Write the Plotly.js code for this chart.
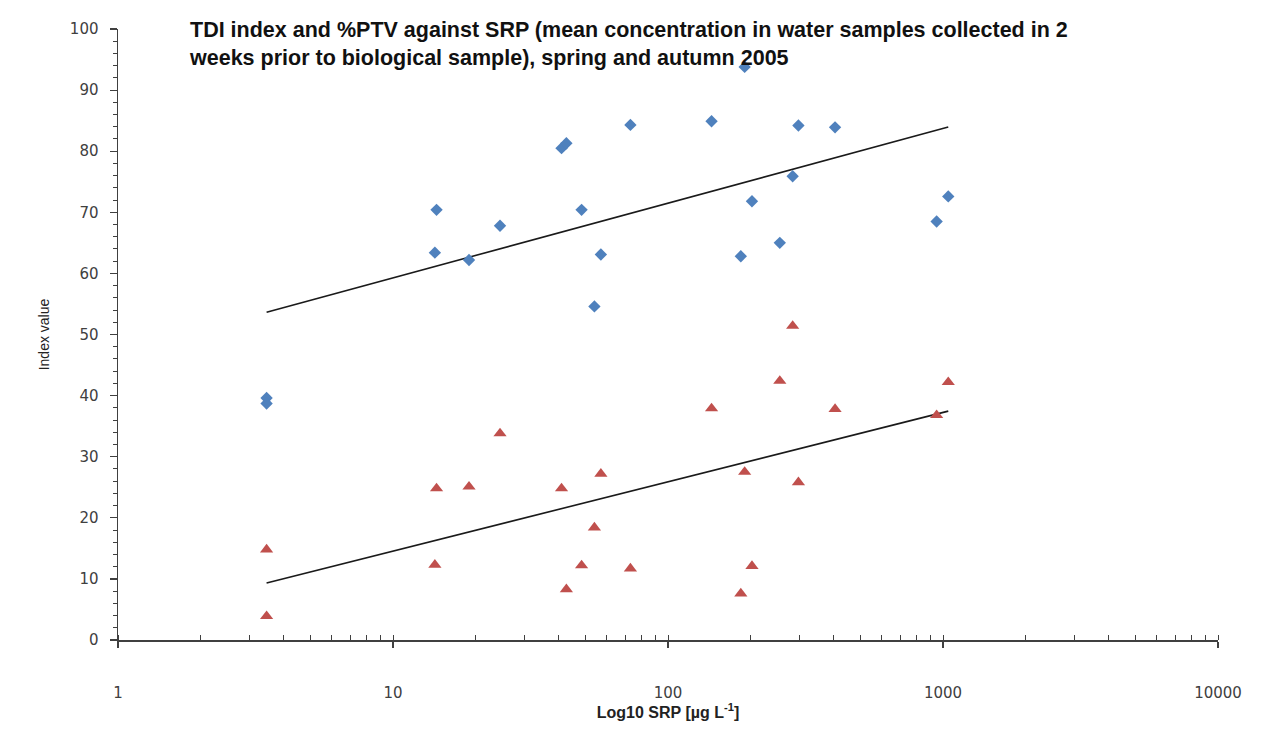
<!DOCTYPE html>
<html>
<head>
<meta charset="utf-8">
<script src="https://cdn.plot.ly/plotly-3.0.1.min.js"></script>
<style>
  html, body { margin: 0; padding: 0; background: #ffffff; }
  #chart { width: 1262px; height: 745px; }
</style>
</head>
<body>
<div id="chart"></div>
<script>
// SRP (µg/L), mean concentration in the 2 weeks before the biological sample
const srp = [3.47, 3.47, 14.2, 14.4, 18.9, 24.5, 41, 42.7, 48.5, 54, 57, 73, 144, 184, 190, 202, 255, 284, 298, 405, 948, 1045];
// TDI index values
const tdi = [39.6, 38.7, 63.4, 70.4, 62.2, 67.8, 80.5, 81.3, 70.4, 54.6, 63.1, 84.3, 84.9, 62.8, 93.8, 71.8, 65.0, 75.9, 84.2, 83.9, 68.5, 72.6];
// %PTV values
const ptv = [14.8, 3.9, 12.3, 24.8, 25.1, 33.8, 24.8, 8.3, 12.2, 18.4, 27.2, 11.7, 37.9, 7.6, 27.5, 12.1, 42.4, 51.4, 25.8, 37.8, 36.8, 42.2];

const xTickVals = [1, 10, 100, 1000, 10000];
const xTickText = ['1', '10', '100', '1000', '10000'];

const titleText = 'TDI index and %PTV against SRP (mean concentration in water samples collected in 2<br>weeks prior to biological sample), spring and autumn 2005';

// Logarithmic trendline (least squares of y on log10(x)), as in the spreadsheet trendline
function logTrend(xs, ys) {
  const lx = xs.map(v => Math.log10(v));
  const n = lx.length;
  const mx = lx.reduce((a, b) => a + b, 0) / n;
  const my = ys.reduce((a, b) => a + b, 0) / n;
  let sxy = 0, sxx = 0;
  for (let i = 0; i < n; i++) { sxy += (lx[i] - mx) * (ys[i] - my); sxx += (lx[i] - mx) * (lx[i] - mx); }
  const b = sxy / sxx, a = my - b * mx;
  const x0 = Math.min(...xs), x1 = Math.max(...xs);
  return { x: [x0, x1], y: [a + b * Math.log10(x0), a + b * Math.log10(x1)] };
}
const tdiTrend = logTrend(srp, tdi);
const ptvTrend = logTrend(srp, ptv);

const traces = [
  { x: tdiTrend.x, y: tdiTrend.y, type: 'scatter', mode: 'lines', name: 'TDI trend',
    line: { color: '#1a1a1a', width: 1.6 }, hoverinfo: 'skip' },
  { x: ptvTrend.x, y: ptvTrend.y, type: 'scatter', mode: 'lines', name: '%PTV trend',
    line: { color: '#1a1a1a', width: 1.6 }, hoverinfo: 'skip' },
  { x: srp, y: tdi, type: 'scatter', mode: 'markers', name: 'TDI',
    marker: { symbol: 'diamond', size: 9.5, color: '#4F81BD' } },
  { x: srp, y: ptv, type: 'scatter', mode: 'markers', name: '%PTV',
    marker: { symbol: 'triangle-up', size: 11.5, color: '#C0504D' } }
];

const tickFont = { family: 'DejaVu Sans', size: 15, color: '#404040' };

const layout = {
  width: 1262, height: 745,
  paper_bgcolor: '#ffffff', plot_bgcolor: '#ffffff',
  showlegend: false,
  margin: { l: 118, r: 44, t: 29, b: 105 },
  title: {
    text: titleText,
    font: { family: 'Liberation Sans', size: 21.5, color: '#111111', weight: 'bold' },
    xref: 'container', yref: 'container',
    x: 190 / 1262, xanchor: 'left',
    y: 1 - 37 / 745, yanchor: 'top'
  },
  xaxis: {
    type: 'log', range: [0, 4],
    tickmode: 'array', tickvals: xTickVals, ticktext: xTickText,
    showgrid: false, zeroline: false,
    showline: true, linecolor: '#404040', linewidth: 1.5,
    ticks: 'outside', ticklen: 6, tickcolor: '#404040', tickwidth: 1.2,
    minor: { ticks: 'inside', ticklen: 5, tickcolor: '#404040', tickwidth: 1, dtick: 'D1', showgrid: false },
    ticklabelstandoff: 32,
    tickfont: tickFont,
    title: { text: 'Log10 SRP [µg L<sup>-1</sup>]', font: { family: 'Liberation Sans', size: 16, color: '#222222', weight: 'bold' }, standoff: 6 }
  },
  yaxis: {
    range: [0, 100], dtick: 10,
    showgrid: false, zeroline: false,
    showline: true, linecolor: '#404040', linewidth: 1.5,
    ticks: 'outside', ticklen: 7, tickcolor: '#404040', tickwidth: 1.2,
    minor: { ticks: 'outside', ticklen: 4, tickcolor: '#404040', tickwidth: 1, dtick: 2, showgrid: false },
    ticklabelstandoff: 8,
    tickfont: tickFont,
    title: { text: 'Index value', font: { family: 'Liberation Sans', size: 14, color: '#222222' }, standoff: 17 }
  }
};

Plotly.newPlot('chart', traces, layout, { displayModeBar: false, staticPlot: true });
</script>
</body>
</html>
